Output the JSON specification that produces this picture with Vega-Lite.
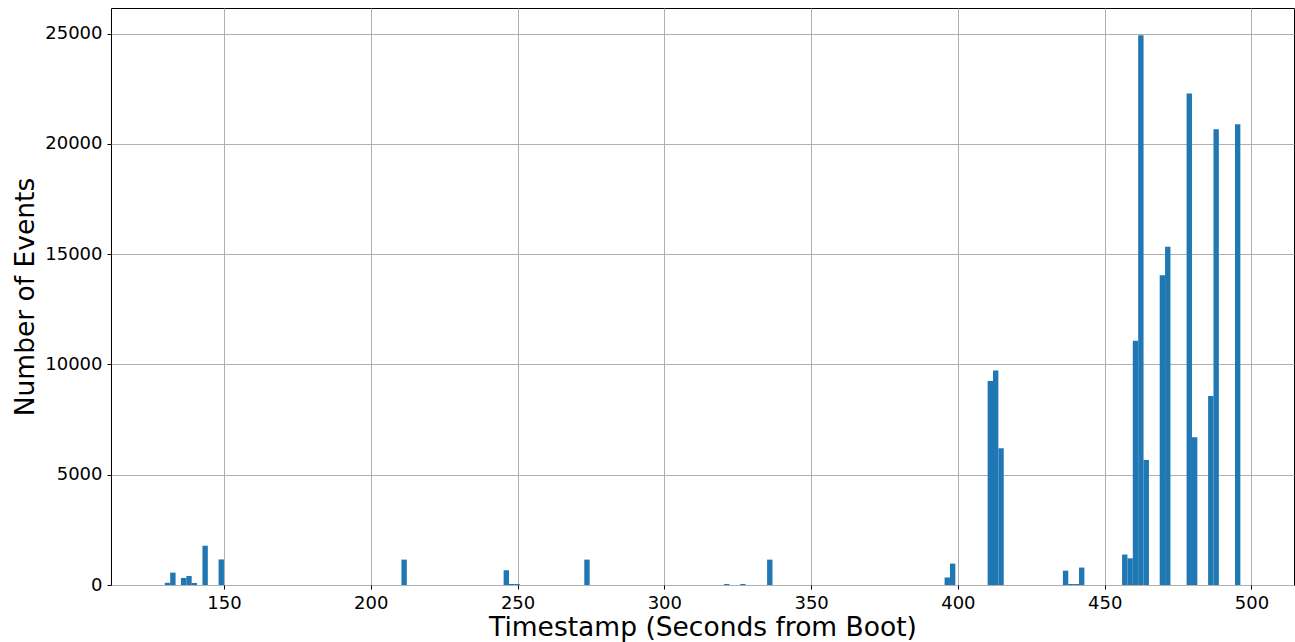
{
  "$schema": "https://vega.github.io/schema/vega-lite/v6.json",
  "width": 1183,
  "height": 577,
  "autosize": {"type": "none"},
  "padding": {"left": 111, "top": 8, "right": 1, "bottom": 57},
  "background": "white",
  "config": {
    "view": {"stroke": "#000000", "strokeWidth": 1},
    "font": "DejaVu Sans",
    "axis": {
      "grid": true,
      "gridColor": "#b0b0b0",
      "gridWidth": 1,
      "gridOpacity": 1,
      "domain": false,
      "tickColor": "#000000",
      "tickSize": 4,
      "tickWidth": 1,
      "labelFont": "DejaVu Sans",
      "labelFontSize": 18,
      "labelColor": "#000000",
      "labelPadding": 5,
      "titleFont": "DejaVu Sans",
      "titleFontSize": 26.5,
      "titleFontWeight": "normal",
      "titleColor": "#000000",
      "zindex": 1
    }
  },
  "data": {
    "values": [
      {"start": 129.83, "end": 131.66, "count": 100},
      {"start": 131.66, "end": 133.50, "count": 560},
      {"start": 135.33, "end": 137.16, "count": 320},
      {"start": 137.16, "end": 138.99, "count": 410},
      {"start": 138.99, "end": 140.82, "count": 90},
      {"start": 142.65, "end": 144.48, "count": 1780},
      {"start": 148.15, "end": 149.98, "count": 1160},
      {"start": 210.44, "end": 212.27, "count": 1150},
      {"start": 245.25, "end": 247.08, "count": 670},
      {"start": 247.08, "end": 248.91, "count": 45},
      {"start": 248.91, "end": 250.74, "count": 45},
      {"start": 272.73, "end": 274.56, "count": 1150},
      {"start": 320.36, "end": 322.19, "count": 45},
      {"start": 325.85, "end": 327.68, "count": 45},
      {"start": 335.01, "end": 336.84, "count": 1150},
      {"start": 395.47, "end": 397.30, "count": 340},
      {"start": 397.30, "end": 399.13, "count": 970},
      {"start": 410.13, "end": 411.96, "count": 9250},
      {"start": 411.96, "end": 413.79, "count": 9720},
      {"start": 413.79, "end": 415.62, "count": 6200},
      {"start": 435.77, "end": 437.61, "count": 650},
      {"start": 437.61, "end": 439.44, "count": 45},
      {"start": 439.44, "end": 441.27, "count": 45},
      {"start": 441.27, "end": 443.10, "count": 790},
      {"start": 455.93, "end": 457.76, "count": 1380},
      {"start": 457.76, "end": 459.59, "count": 1210},
      {"start": 459.59, "end": 461.42, "count": 11075},
      {"start": 461.42, "end": 463.25, "count": 24920},
      {"start": 463.25, "end": 465.08, "count": 5670},
      {"start": 468.75, "end": 470.58, "count": 14040},
      {"start": 470.58, "end": 472.41, "count": 15340},
      {"start": 477.91, "end": 479.74, "count": 22280},
      {"start": 479.74, "end": 481.57, "count": 6700},
      {"start": 485.24, "end": 487.07, "count": 8570},
      {"start": 487.07, "end": 488.90, "count": 20660},
      {"start": 494.40, "end": 496.23, "count": 20890}
    ]
  },
  "mark": {"type": "bar", "color": "#1f77b4", "strokeWidth": 0},
  "encoding": {
    "x": {
      "field": "start",
      "type": "quantitative",
      "scale": {"domain": [111.5, 514.5], "nice": false, "zero": false},
      "axis": {
        "title": "Timestamp (Seconds from Boot)",
        "values": [150, 200, 250, 300, 350, 400, 450, 500],
        "format": "d",
        "titlePadding": 2
      }
    },
    "x2": {"field": "end"},
    "y": {
      "field": "count",
      "type": "quantitative",
      "scale": {"domain": [0, 26160], "nice": false, "padding": 0},
      "axis": {
        "title": "Number of Events",
        "values": [0, 5000, 10000, 15000, 20000, 25000],
        "format": "d",
        "titlePadding": 5
      }
    },
    "y2": {"datum": 0}
  }
}
